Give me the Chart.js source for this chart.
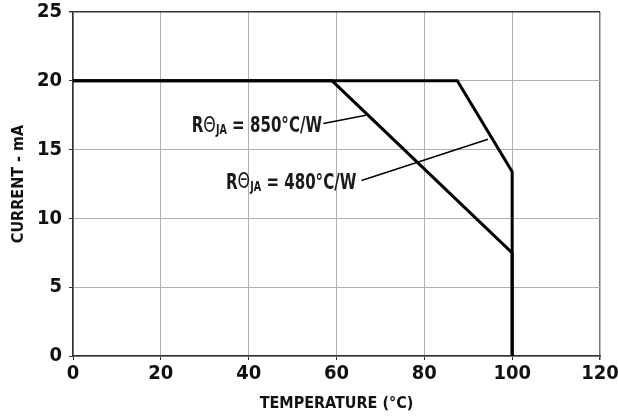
<!DOCTYPE html>
<html>
<head>
<meta charset="utf-8">
<script src="https://cdn.jsdelivr.net/npm/chart.js@4.4.1/dist/chart.umd.min.js"></script>
<style>
  html, body { margin: 0; padding: 0; background: #fff; }
</style>
</head>
<body>
<canvas id="c" width="618" height="416"></canvas>
<script>
// ---- data ----
const xTicks = [0, 20, 40, 60, 80, 100, 120];
const yTicks = [0, 5, 10, 15, 20, 25];
const curve850x = [0, 59, 100, 100];
const curve850y = [20, 20, 7.5, 0];
const curve480x = [0, 87.5, 100, 100];
const curve480y = [20, 20, 13.4, 0];
// leader lines (data coords)
const leader850x = [57.0, 66.7];
const leader850y = [16.9, 17.5];
const leader480x = [65.7, 94.5];
const leader480y = [12.75, 15.75];
// label anchors (right end of text, vertical centre), data coords
const labelText = ["850°C/W", "480°C/W"];
const labelX = [56.7, 64.5];
const labelY = [16.68, 12.57];

const FONT = "'Liberation Sans Narrow', 'DejaVu Sans Condensed', sans-serif";

function pts(xs, ys) { return xs.map((x, i) => ({ x: x, y: ys[i] })); }

const labelPlugin = {
  id: 'rlabels',
  afterDatasetsDraw(chart) {
    const ctx = chart.ctx;
    const xs = chart.scales.x, ys = chart.scales.y;
    const sx = 0.76;
    ctx.save();
    ctx.fillStyle = '#1a1a1a';
    ctx.textBaseline = 'middle';
    for (let i = 0; i < labelText.length; i++) {
      const big = "bold 22px " + FONT;
      const thetaF = "21px 'DejaVu Sans', sans-serif";
      const sub = "bold 14px " + FONT;
      const parts = [
        { t: "R", f: big, dy: 0 },
        { t: "\u0398", f: thetaF, dy: 0 },
        { t: "JA", f: sub, dy: 4 },
        { t: " = " + labelText[i], f: big, dy: 0 }
      ];
      let total = 0;
      parts.forEach(p => { ctx.font = p.f; p.w = ctx.measureText(p.t).width; total += p.w; });
      const right = xs.getPixelForValue(labelX[i]);
      const y = ys.getPixelForValue(labelY[i]);
      ctx.save();
      ctx.translate(right - total * sx, y);
      ctx.scale(sx, 1);
      let x = 0;
      parts.forEach(p => {
        ctx.font = p.f;
        ctx.textAlign = 'left';
        ctx.fillText(p.t, x, p.dy);
        x += p.w;
      });
      ctx.restore();
    }
    ctx.restore();
  }
};

new Chart(document.getElementById('c'), {
  type: 'line',
  data: {
    datasets: [
      { data: pts(curve850x, curve850y), borderColor: '#000', borderWidth: 3, pointRadius: 0, tension: 0, fill: false },
      { data: pts(curve480x, curve480y), borderColor: '#000', borderWidth: 3, pointRadius: 0, tension: 0, fill: false },
      { data: pts(leader850x, leader850y), borderColor: '#000', borderWidth: 1.5, pointRadius: 0, tension: 0, fill: false },
      { data: pts(leader480x, leader480y), borderColor: '#000', borderWidth: 1.5, pointRadius: 0, tension: 0, fill: false }
    ]
  },
  options: {
    responsive: false,
    animation: false,
    devicePixelRatio: 1,
    layout: { padding: { top: 12, right: 18, left: 0, bottom: 0 } },
    plugins: { legend: { display: false }, tooltip: { enabled: false } },
    scales: {
      x: {
        type: 'linear', min: 0, max: 120,
        afterBuildTicks: s => { s.ticks = xTicks.map(v => ({ value: v })); },
        afterFit: s => { s.height = 60; s.paddingLeft = 0; s.paddingRight = 0; },
        ticks: { autoSkip: false, color: '#111', font: { family: FONT, weight: 'bold', size: 20 }, padding: 2, maxRotation: 0 },
        grid: {
          color: c => (c.tick && c.tick.value === 120) ? '#777' : '#b0b0b0',
          lineWidth: c => (c.tick && c.tick.value === 120) ? 1.5 : 1,
          tickColor: '#333', tickLength: 4
        },
        border: { color: '#333', width: 1.5 },
        title: { display: true, text: 'TEMPERATURE (°C)', color: '#111', font: { family: FONT, weight: 'bold', size: 16 }, padding: { top: 0, bottom: 3 } }
      },
      y: {
        type: 'linear', min: 0, max: 25,
        afterBuildTicks: s => { s.ticks = yTicks.map(v => ({ value: v })); },
        afterFit: s => { s.width = 73; s.paddingTop = 0; s.paddingBottom = 0; },
        ticks: { autoSkip: false, color: '#111', font: { family: FONT, weight: 'bold', size: 20 }, padding: 7 },
        grid: {
          color: c => (c.tick && c.tick.value === 25) ? '#333' : '#b0b0b0',
          lineWidth: c => (c.tick && c.tick.value === 25) ? 1.5 : 1,
          tickColor: '#333', tickLength: 4
        },
        border: { color: '#333', width: 1.5 },
        title: { display: true, text: 'CURRENT - mA', color: '#111', font: { family: FONT, weight: 'bold', size: 16 }, padding: { top: 9, bottom: 0 } }
      }
    }
  },
  plugins: [labelPlugin]
});
</script>
</body>
</html>
